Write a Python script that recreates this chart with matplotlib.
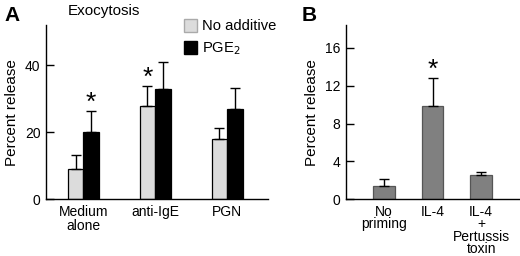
import matplotlib
matplotlib.use('Agg')
import matplotlib.pyplot as plt
from matplotlib.patches import Patch
import numpy as np

plt.rcParams['font.family'] = ['Liberation Sans', 'DejaVu Sans']
plt.rcParams['font.size'] = 10

# Panel A : exocytosis
groups_a = ['Medium\nalone', 'anti-IgE', 'PGN']
no_additive = [9.0, 27.8, 17.9]
no_additive_err = [4.2, 6.0, 3.5]
pge2 = [20.1, 32.8, 27.0]
pge2_err = [6.3, 8.1, 6.3]
stars_a = [(0, 'PGE2'), (1, 'none')]  # (group, series)

# Panel B
groups_b = ['No\npriming', 'IL-4', 'IL-4\n+\nPertussis\ntoxin']
release_b = [1.4, 9.9, 2.55]
release_b_err = [0.75, 2.95, 0.35]
stars_b = [1]

fig = plt.figure(figsize=(5.2, 2.56), dpi=100)

# ---- Panel A
axA = fig.add_axes([46/520, 1-199.3/256, (268-46)/520, (199.3-25)/256])
x = np.arange(len(groups_a))
w = 0.216
err_kw = dict(ecolor='black', elinewidth=1, capsize=3.5, capthick=1)
axA.bar(x - w/2, no_additive, w, color='#dcdcdc', edgecolor='black', linewidth=0.9,
        yerr=[np.zeros(3), no_additive_err], error_kw=err_kw)
axA.bar(x + w/2, pge2, w, color='black', edgecolor='black', linewidth=0.9,
        yerr=[np.zeros(3), pge2_err], error_kw=err_kw)
axA.set_xlim(-0.52, 2.57)
axA.set_ylim(0, 52)
axA.set_yticks([0, 20, 40])
axA.set_xticks(x)
axA.set_xticklabels(groups_a, linespacing=0.97)
axA.set_ylabel('Percent release', fontsize=11, labelpad=4)

# asterisques
for g, s in stars_a:
    if s == 'PGE2':
        xs, top = g + w/2, pge2[g] + pge2_err[g]
    else:
        xs, top = g - w/2, no_additive[g] + no_additive_err[g]
    axA.annotate('*', (xs, top), xytext=(0, -3), textcoords='offset points',
                 ha='center', va='bottom', fontsize=19)

leg = axA.legend(handles=[Patch(facecolor='#dcdcdc', edgecolor='#aaaaaa', label='No additive'),
                          Patch(facecolor='black', edgecolor='black', label='PGE$_2$')],
                 loc='upper left', bbox_to_anchor=(184/520, 1-19/256), bbox_transform=fig.transFigure,
                 frameon=False, handlelength=0.9, handleheight=0.95, handletextpad=0.3,
                 labelspacing=0.5, borderpad=0, borderaxespad=0, fontsize=10.6)

fig.text(68/520, 1-15/256, 'Exocytosis', fontsize=11, ha='left', va='baseline')
fig.text(4/520, 1-21/256, 'A', fontsize=15, fontweight='bold', ha='left', va='baseline')

# ---- Panel B
axB = fig.add_axes([346/520, 1-199.3/256, (520-346)/520, (199.3-25)/256])
xb = np.arange(len(groups_b))
axB.bar(xb, release_b, 0.447, color='#808080', edgecolor='#555555', linewidth=0.9,
        yerr=[np.zeros(3), release_b_err], error_kw=err_kw)
axB.set_xlim(-0.78, 2.80)
axB.set_ylim(0, 18.4)
axB.set_yticks([0, 4, 8, 12, 16])
axB.set_xticks(xb)
axB.set_xticklabels(groups_b, linespacing=0.85)
axB.set_ylabel('Percent release', fontsize=11, labelpad=4)
for g in stars_b:
    axB.annotate('*', (g, release_b[g] + release_b_err[g]), xytext=(0, -3),
                 textcoords='offset points', ha='center', va='bottom', fontsize=19)
fig.text(302/520, 1-21/256, 'B', fontsize=15, fontweight='bold', ha='left', va='baseline')

for ax in (axA, axB):
    ax.spines['top'].set_visible(False)
    ax.spines['right'].set_visible(False)
    ax.spines['left'].set_linewidth(1)
    ax.spines['bottom'].set_linewidth(1)
    ax.tick_params(axis='y', direction='in', length=6, width=1, pad=4, labelsize=10)
    ax.tick_params(axis='x', length=0, pad=4, labelsize=10)

fig.savefig('out.png', dpi=100)
